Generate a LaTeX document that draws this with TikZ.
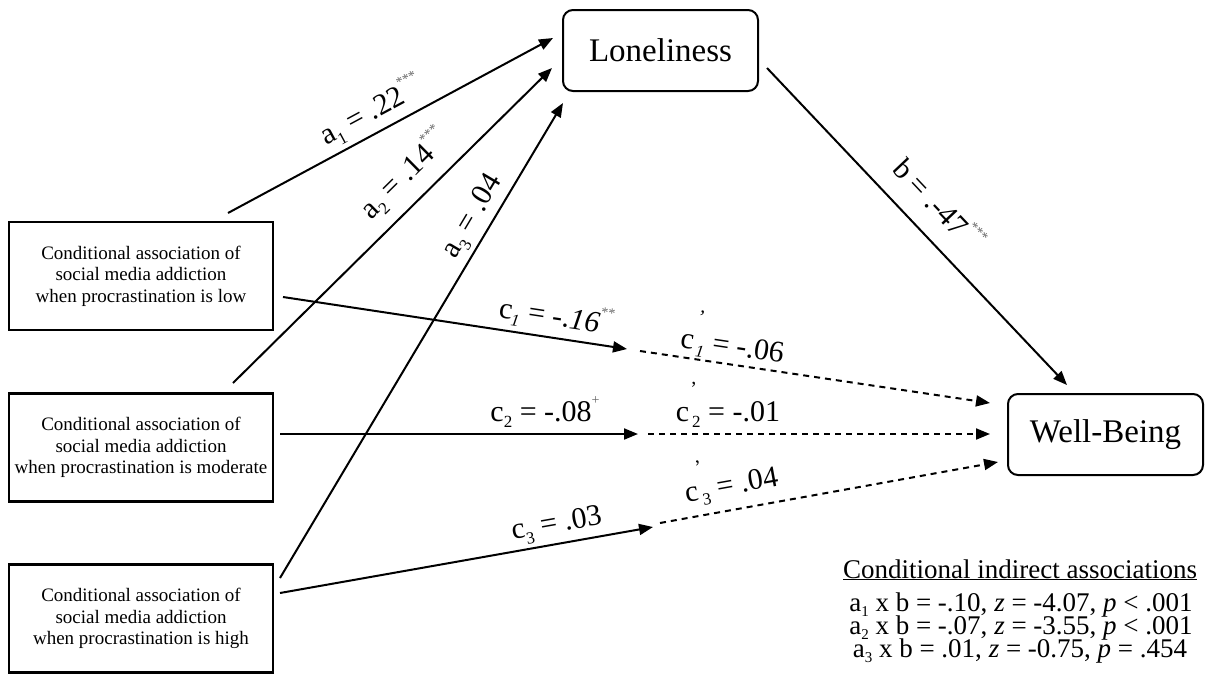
\documentclass[tikz,border=0pt]{standalone}
\usepackage{fontspec}
\setmainfont{Liberation Serif}
\usetikzlibrary{arrows.meta}
\newcommand\lsub[1]{\raisebox{-0.22em}{\fontsize{17}{17}\selectfont #1}}
\newcommand\gsub[1]{\raisebox{-0.22em}{\fontsize{15}{15}\selectfont #1}}
\newcommand\lstar[1]{\raisebox{0.55em}{\fontsize{14}{14}\selectfont\color{black!60}#1}}
\newcommand\lprime{\rlap{\raisebox{26pt}{\fontsize{20}{20}\selectfont\kern1pt\symbol{39}}}}
\begin{document}
\begin{tikzpicture}[x=1pt,y=-1pt,
  cond/.style={draw, line width=2.3pt, minimum width=264pt, minimum height=108pt,
    align=center, font=\fontsize{19}{21.5}\selectfont, inner sep=0pt},
  var/.style={draw, line width=2pt, rounded corners=10pt, minimum width=195pt,
    minimum height=81pt, font=\fontsize{33}{36}\selectfont, inner sep=0pt},
  arr/.style={line width=2pt, -{Triangle[length=14pt,width=11pt]}},
  darr/.style={arr, dash pattern=on 6pt off 5pt},
  lab/.style={font=\fontsize{30}{32}\selectfont, anchor=base, inner sep=0pt},
  leg/.style={font=\fontsize{27}{27}\selectfont, anchor=base, inner sep=0pt},
]
\useasboundingbox (0,0) rectangle (1211,673);
% nodes
\node[cond] (low) at (141,276) {Conditional association of\\social media addiction\\when procrastination is low};
\node[cond] (mod) at (141,447.5) {Conditional association of\\social media addiction\\when procrastination is moderate};
\node[cond] (high) at (141,618.5) {Conditional association of\\social media addiction\\when procrastination is high};
\node[var] (lon) at (660.5,50.5) {Loneliness};
\node[var] (wb) at (1105.5,434.5) {Well-Being};
% connector ends
\coordinate (a1s) at (228,213); \coordinate (a1e) at (553,38);
\coordinate (a2s) at (233,383); \coordinate (a2e) at (552,68);
\coordinate (a3s) at (280,578); \coordinate (a3e) at (563,103);
\coordinate (bs) at (767,68);   \coordinate (be) at (1067,385);
\coordinate (c1s) at (283,297); \coordinate (c1m) at (627,349);
\coordinate (c1n) at (640,351); \coordinate (c1e) at (990,403);
\coordinate (c2s) at (280,434); \coordinate (c2m) at (638,434);
\coordinate (c2n) at (648,434); \coordinate (c2e) at (990,434);
\coordinate (c3s) at (280,593); \coordinate (c3m) at (653,527);
\coordinate (c3n) at (660,523); \coordinate (c3e) at (998,462);
% connectors
\draw[arr] (a1s) -- (a1e);
\draw[arr] (a2s) -- (a2e);
\draw[arr] (a3s) -- (a3e);
\draw[arr] (bs) -- (be);
\draw[arr] (c1s) -- (c1m);
\draw[darr] (c1n) -- (c1e);
\draw[arr] (c2s) -- (c2m);
\draw[darr] (c2n) -- (c2e);
\draw[arr] (c3s) -- (c3m);
\draw[darr] (c3n) -- (c3e);
% labels
\node[lab, rotate=28.3] (la1) at (376,119) {a\lsub{1} = .22\lstar{***}};
\node[lab, rotate=44.6] (la2) at (411,181) {a\lsub{2} = .14\lstar{***}};
\node[lab, rotate=59.2] (la3) at (479,220) {a\lsub{3} = .04};
\node[lab, rotate=-46.6] (lb) at (931,212) {b = .-47\lstar{***}};
\node[lab, rotate=-8.6] (lc1) at (555,326) {c\lsub{\textit{1}} = -.\textit{16}\lstar{**}};
\node[lab, rotate=-8.5] (lc1p) at (731,355) {c\lprime\lsub{\,\textit{1}} = -.06};
\node[lab] (lc2) at (545,421) {c\lsub{2} = -.08\lstar{+}};
\node[lab] (lc2p) at (728,421) {c\lprime\lsub{\,2} = -.01};
\node[lab, rotate=10] (lc3) at (558,532) {c\lsub{3} = .03};
\node[lab, rotate=10.2] (lc3p) at (733,494) {c\lprime\lsub{\,3} = .04};
% legend
\node[leg] (leg0) at (1020,578) {\underline{Conditional indirect associations}};
\node[leg] (leg1) at (1021,611) {a\gsub{1} x b = -.10, \textit{z} = -4.07, \textit{p} {<} .001};
\node[leg] (leg2) at (1021,634) {a\gsub{2} x b = -.07, \textit{z} = -3.55, \textit{p} {<} .001};
\node[leg] (leg3) at (1020,657) {a\gsub{3} x b = .01, \textit{z} = -0.75, \textit{p} = .454};
\end{tikzpicture}
\end{document}
